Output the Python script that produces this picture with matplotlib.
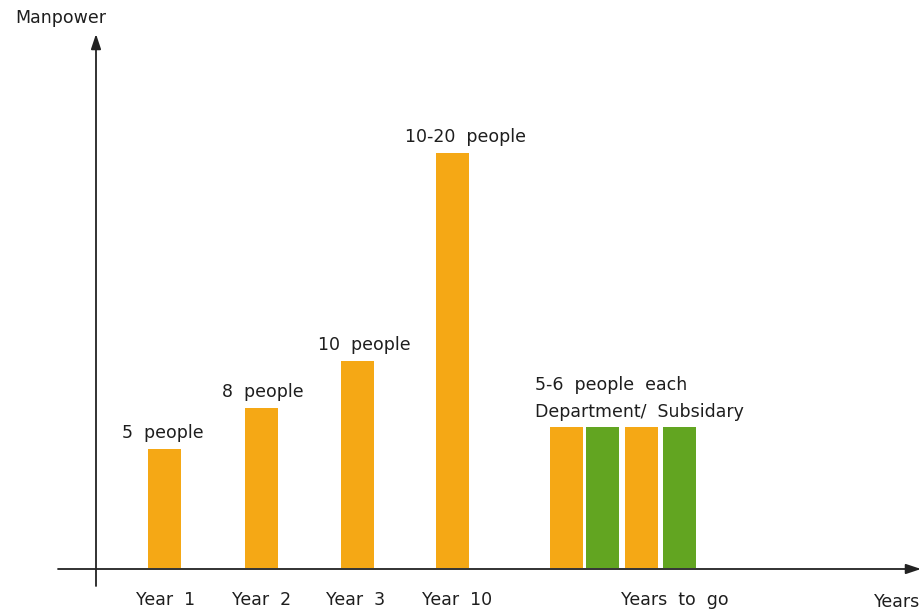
import matplotlib
matplotlib.use("Agg")
import matplotlib.pyplot as plt

plt.rcParams['font.family'] = ['DejaVu Sans']

# ---- data ----
stage_labels = ["Year  1", "Year  2", "Year  3", "Year  10"]
stage_values = [5.75, 7.7, 10.0, 20.0]
stage_notes = ["5  people", "8  people", "10  people", "10-20  people"]
stage_pos = [164, 261, 357, 452]

group_values = [6.8, 6.8, 6.8, 6.8]
group_colors_key = ["orange", "green", "orange", "green"]
group_pos = [566, 602.5, 641.5, 679]
group_label = "Years  to  go"
group_note = ["5-6  people  each", "Department/  Subsidary"]

W, H = 924, 610
ORANGE = "#F5A815"
GREEN = "#62A521"
TXT = "#1e1e1e"
AX = "#222222"
colors = {"orange": ORANGE, "green": GREEN}

fig = plt.figure(figsize=(W / 100, H / 100), dpi=100)
ax = fig.add_axes([0, 0, 1, 1])
ppu = 20.75
base_px = 568  # axis y in pixels from top
ax.set_xlim(0, W)
ax.set_ylim(-(H - base_px) / ppu, base_px / ppu)
ax.axis("off")

bw = 33
ax.bar(stage_pos, stage_values, width=bw, color=ORANGE, zorder=2)
ax.bar(group_pos, group_values, width=bw,
       color=[colors[c] for c in group_colors_key], zorder=2)

def fy(ypx):
    return 1 - ypx / H

def fx(xpx):
    return xpx / W

# axes with arrows (in pixel coordinates of the figure)
ax.annotate("", xy=(fx(96), fy(34)), xytext=(fx(96), fy(586)),
            xycoords=fig.transFigure, textcoords=fig.transFigure,
            arrowprops=dict(arrowstyle="-|>,head_length=0.9,head_width=0.3",
                            color=AX, lw=1.3, shrinkA=0, shrinkB=0), zorder=3)
ax.annotate("", xy=(fx(921), fy(569)), xytext=(fx(58), fy(569)),
            xycoords=fig.transFigure, textcoords=fig.transFigure,
            arrowprops=dict(arrowstyle="-|>,head_length=0.9,head_width=0.3",
                            color=AX, lw=1.3, shrinkA=0, shrinkB=0), zorder=3)

fs = 12.5
# value notes above bars
note_x = [122, 222, 318, 405]
for x, v, t in zip(note_x, stage_values, stage_notes):
    ax.annotate(t, xy=(x, v), xytext=(0, 7), textcoords="offset pixels",
                ha="left", va="bottom", fontsize=fs, color=TXT)
ax.annotate(group_note[1], xy=(535, group_values[0]), xytext=(0, 6),
            textcoords="offset pixels", ha="left", va="bottom", fontsize=fs, color=TXT)
ax.annotate(group_note[0], xy=(535, group_values[0]), xytext=(0, 33),
            textcoords="offset pixels", ha="left", va="bottom", fontsize=fs, color=TXT)

# category labels below axis
label_x = [166, 262, 356, 457]
for x, t in zip(label_x, stage_labels):
    fig.text(fx(x), fy(600), t, ha="center", va="center", fontsize=fs, color=TXT)
fig.text(fx(675), fy(600), group_label, ha="center", va="center", fontsize=fs, color=TXT)

fig.text(fx(15), fy(18), "Manpower", ha="left", va="center", fontsize=fs, color=TXT)
fig.text(fx(874), fy(602), "Years", ha="left", va="center", fontsize=fs, color=TXT)

fig.savefig("out.png", dpi=100)
